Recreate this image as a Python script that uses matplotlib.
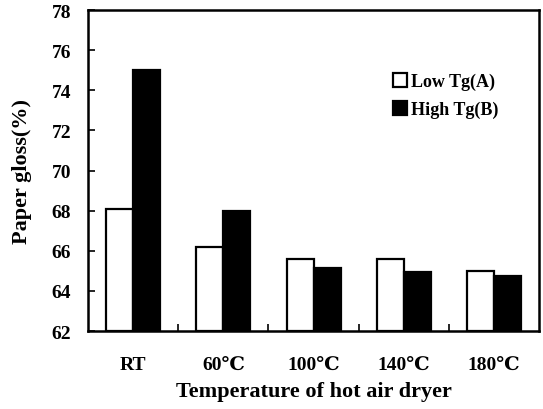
import matplotlib
matplotlib.use('Agg')
import matplotlib.pyplot as pl
import numpy as np

categories = ['RT', '60\u2103', '100\u2103', '140\u2103', '180\u2103']
low_tg = [68.1, 66.2, 65.6, 65.6, 65.0]
high_tg = [75.0, 68.0, 65.15, 64.95, 64.75]
series_names = ['Low Tg(A)', 'High Tg(B)']

pl.rcParams['font.family'] = ['Liberation Serif', 'DejaVu Serif']
pl.rcParams['font.weight'] = 'bold'

fig = pl.figure(figsize=(5.43, 4.10), dpi=100)
ax = fig.add_axes([0.162, 0.190, 0.831, 0.783])

x = np.arange(len(categories))
w = 0.3
ax.bar(x - w / 2, np.array(low_tg) - 62, w, bottom=62, color='white',
       edgecolor='black', linewidth=1.6, label=series_names[0])
ax.bar(x + w / 2, np.array(high_tg) - 62, w, bottom=62, color='black',
       edgecolor='black', linewidth=1.6, label=series_names[1])

ax.set_xlim(-0.5, len(categories) - 0.5)
ax.set_ylim(62, 78)
ax.set_yticks(np.arange(62, 79, 2))
ax.set_xticks(x)
ax.set_xticklabels(categories)
ax.set_xticks(np.arange(0.5, len(categories) - 0.5, 1), minor=True)
ax.tick_params(axis='x', which='major', length=0, pad=18, labelsize=14)
ax.tick_params(axis='x', which='minor', direction='in', length=5, width=1.2)
ax.tick_params(axis='y', direction='in', length=5, width=1.2, labelsize=14, pad=12)
for lab in ax.get_xticklabels() + ax.get_yticklabels():
    lab.set_fontweight('bold')
for sp in ax.spines.values():
    sp.set_linewidth(1.8)

ax.set_xlabel('Temperature of hot air dryer', fontsize=16, fontweight='bold', labelpad=6)
ax.set_ylabel('Paper gloss(%)', fontsize=16, fontweight='bold', labelpad=14)

leg = ax.legend(loc='upper left', bbox_to_anchor=(0.64, 0.855), frameon=False,
                handlelength=0.8, handleheight=0.8, handletextpad=0.2,
                labelspacing=0.6, prop={'size': 13, 'weight': 'bold'})

fig.savefig('out.png', dpi=100)
